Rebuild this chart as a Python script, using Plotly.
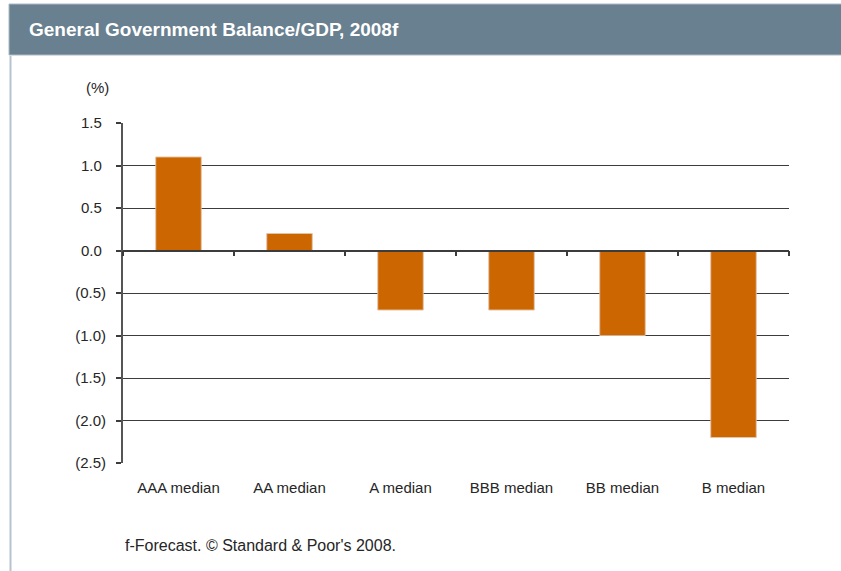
import plotly.graph_objects as go

# Rating categories and their general government balance/GDP medians (%)
categories = ["AAA median", "AA median", "A median", "BBB median", "BB median", "B median"]
balance = [1.1, 0.2, -0.7, -0.7, -1.0, -2.2]

# Y axis ticks with negatives shown in parentheses (positives padded so digits align)
y_tickvals = [1.5, 1.0, 0.5, 0.0, -0.5, -1.0, -1.5, -2.0, -2.5]
y_ticktext = ["1.5\u00a0", "1.0\u00a0", "0.5\u00a0", "0.0\u00a0",
              "(0.5)", "(1.0)", "(1.5)", "(2.0)", "(2.5)"]

title_text = "General Government Balance/GDP, 2008f"
unit_text = "(%)"
footnote_text = "f-Forecast. \u00a9 Standard & Poor's 2008."

W, H = 841, 571
ML, MR, MT, MB = 123, 52, 123, 108
PW, PH = W - ML - MR, H - MT - MB


def px_x(px):
    return (px - ML) / PW


def px_y(py):
    return (H - MB - py) / PH


FONT = "Liberation Sans, Arial, sans-serif"
BAR = "#cc6600"
GRID = "#3c3c3c"
TXT = "#262626"

fig = go.Figure()

fig.add_trace(go.Bar(
    x=categories, y=balance,
    marker=dict(color=BAR, line=dict(color="#e08a3c", width=0.6)),
    width=0.41, xaxis="x", yaxis="y",
    hoverinfo="x+y",
))

# Invisible copy on the overlaid axis that draws the zero line with category ticks
fig.add_trace(go.Bar(
    x=categories, y=balance, xaxis="x2", yaxis="y",
    marker=dict(color="rgba(0,0,0,0)"), width=0.41,
    hoverinfo="skip", showlegend=False,
))

y_min, y_max = -2.5, 1.5
zero_pos = (0 - y_min) / (y_max - y_min)

fig.update_layout(
    width=W, height=H,
    margin=dict(l=ML, r=MR, t=MT, b=MB),
    paper_bgcolor="white", plot_bgcolor="white",
    showlegend=False,
    font=dict(family=FONT, size=15, color=TXT),
    xaxis=dict(
        type="category", showgrid=False, showline=False, zeroline=False,
        ticks="", ticklabelstandoff=14,
        tickfont=dict(family=FONT, size=15, color=TXT),
        range=[-0.5, 5.5],
    ),
    xaxis2=dict(
        type="category", overlaying="x", anchor="free", position=zero_pos,
        side="bottom", showline=True, linecolor=GRID, linewidth=1.5,
        ticks="outside", tickson="boundaries", ticklen=5, tickwidth=1.5,
        tickcolor=GRID, showticklabels=False, showgrid=False,
        range=[-0.5, 5.5],
    ),
    yaxis=dict(
        range=[y_min, y_max], tickvals=y_tickvals, ticktext=y_ticktext,
        showgrid=True, gridcolor=GRID, gridwidth=1.2, zeroline=False,
        showline=True, linecolor="#555555", linewidth=2,
        ticks="outside", ticklen=5, tickwidth=1.5, tickcolor=GRID,
        ticklabelstandoff=7,
        tickfont=dict(family=FONT, size=15, color=TXT),
    ),
    bargap=0.59,
)

# Header band and left frame border
fig.add_shape(type="rect", xref="paper", yref="paper",
              x0=px_x(9), x1=px_x(845), y0=px_y(55), y1=px_y(4),
              fillcolor="#68808f", line=dict(color="#a9bac6", width=1),
              layer="below")
fig.add_shape(type="line", xref="paper", yref="paper",
              x0=px_x(10.5), x1=px_x(10.5), y0=px_y(56), y1=px_y(575),
              line=dict(color="#b4c4d0", width=2))

fig.add_annotation(text="<b>" + title_text + "</b>", xref="paper", yref="paper",
                   x=px_x(27), y=px_y(29), xanchor="left", yanchor="middle",
                   showarrow=False,
                   font=dict(family=FONT, size=19, color="white"))
fig.add_annotation(text=unit_text, xref="paper", yref="paper",
                   x=px_x(111), y=px_y(88), xanchor="right", yanchor="middle",
                   showarrow=False, font=dict(family=FONT, size=15, color=TXT))
fig.add_annotation(text=footnote_text, xref="paper", yref="paper",
                   x=px_x(123), y=px_y(545), xanchor="left", yanchor="middle",
                   showarrow=False, font=dict(family=FONT, size=16, color=TXT))

fig.write_html("out.html")
